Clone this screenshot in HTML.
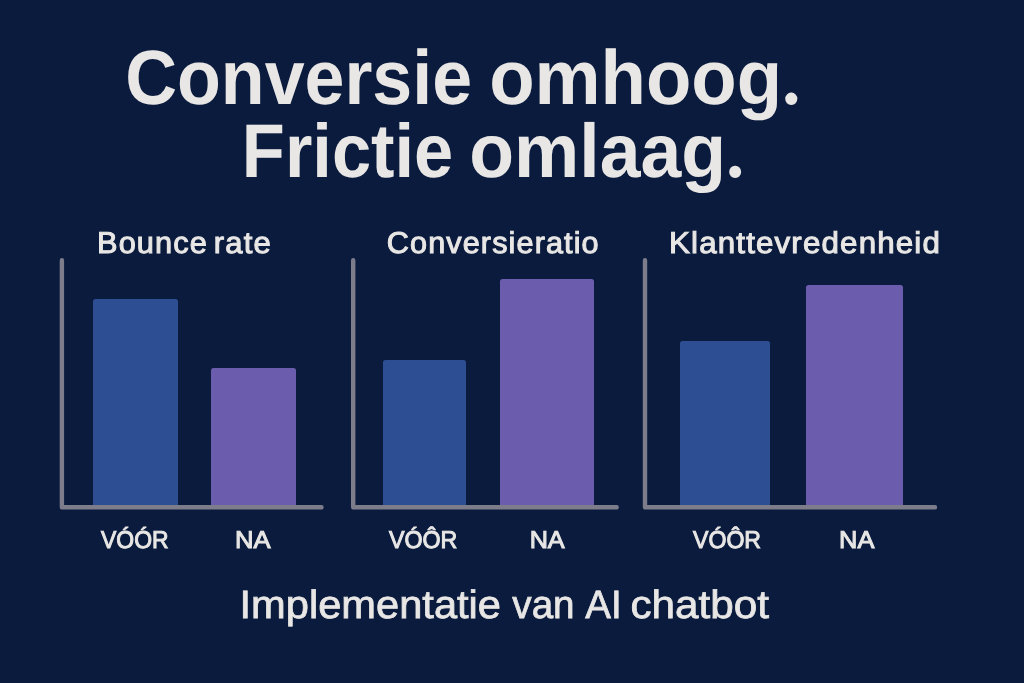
<!DOCTYPE html>
<html lang="nl">
<head>
<meta charset="utf-8">
<title>Conversie omhoog. Frictie omlaag.</title>
<style>
  html, body { margin: 0; padding: 0; }
  body { width: 1024px; height: 683px; overflow: hidden; background: #0b1b3e;
         font-family: "Liberation Sans", sans-serif; color: #e8e7e5; }
  .stage { position: relative; width: 1024px; height: 683px; background: #0b1b3e; overflow: hidden; }
  h1, h2, p { margin: 0; font: inherit; }
  .t { position: absolute; white-space: nowrap; line-height: 1; transform-origin: 0 0; margin: 0; display: block; text-rendering: geometricPrecision; }
  .h1 { font-size: 77px; font-weight: 700; }
  .h1b { font-size: 76px; font-weight: 700; }
  .dot { font-family: "Liberation Serif", serif; }
  .sub { font-size: 30.2px; letter-spacing: 1.1px; font-weight: 400; -webkit-text-stroke: 1px #e8e7e5; }
  .lab { font-size: 24.3px; font-weight: 400; -webkit-text-stroke: 1px #e8e7e5; }
  .foot { font-size: 39.5px; font-weight: 400; -webkit-text-stroke: 0.75px #e8e7e5; }
  .bar { position: absolute; border-radius: 2.5px 2.5px 0 0; }
  .blue { background: #2e4e93; }
  .purple { background: #6b5cad; }
  svg.axes { position: absolute; left: 0; top: 0; }
</style>
</head>
<body>
<div class="stage">
  <h1><span class="t h1" id="w1" style="left:125px; top:39px; transform:translate(0.29px,0.92px) scaleX(0.9312);">Conversie</span> <span class="t h1" id="w2" style="left:489px; top:39px; transform:translate(0.14px,0.92px) scaleX(0.9648);">omhoog<span class="dot">.</span></span> <span class="t h1b" id="w3" style="left:241px; top:114px; transform:translate(0.85px,0.17px) scaleX(0.9271);">Frictie</span> <span class="t h1b" id="w4" style="left:469px; top:114px; transform:translate(0.27px,0.17px) scaleX(0.9649);">omlaag<span class="dot">.</span></span></h1>

  <!-- chart 1: Bounce rate -->
  <h2><span class="t sub" id="s1a" style="left:96px; top:229px; transform:translate(1.00px,0.24px) scaleX(1.0189);">Bounce</span> <span class="t sub" id="s1b" style="left:213px; top:229px; transform:translate(0.86px,0.24px) scaleX(1.0282);">rate</span></h2>
  <div class="bar blue"   style="left:93px;  top:299px; width:85px; height:207px;"></div>
  <div class="bar purple" style="left:211px; top:368px; width:85px; height:138px;"></div>
  <span class="t lab" id="l1a" style="left:101px; top:529px; transform:translate(0.04px,0.23px) scaleX(0.9444);">VÓÓR</span> <span class="t lab" id="l1b" style="left:234px; top:529px; transform:translate(0.97px,0.23px) scaleX(1.0539);">NA</span>

  <!-- chart 2: Conversieratio -->
  <h2><span class="t sub" id="s2" style="left:386px; top:229px; transform:translate(0.84px,0.24px) scaleX(1.0137);">Conversieratio</span></h2>
  <div class="bar blue"   style="left:383px; top:360px; width:83px; height:146px;"></div>
  <div class="bar purple" style="left:500px; top:278.5px; width:94px; height:227.5px;"></div>
  <span class="t lab" id="l2a" style="left:388px; top:529px; transform:translate(0.93px,0.23px) scaleX(0.9557);">VÓÔR</span> <span class="t lab" id="l2b" style="left:529px; top:529px; transform:translate(0.65px,0.23px) scaleX(1.0386);">NA</span>

  <!-- chart 3: Klanttevredenheid -->
  <h2><span class="t sub" id="s3" style="left:669px; top:229px; transform:translate(0.02px,0.34px) scaleX(1.0379);">Klanttevredenheid</span></h2>
  <div class="bar blue"   style="left:680px; top:341px; width:90px; height:165px;"></div>
  <div class="bar purple" style="left:806px; top:285px; width:97px; height:221px;"></div>
  <span class="t lab" id="l3a" style="left:693px; top:529px; transform:translate(0.04px,0.23px) scaleX(0.9503);">VÓÔR</span> <span class="t lab" id="l3b" style="left:839px; top:529px; transform:translate(0.08px,0.23px) scaleX(1.0449);">NA</span>

  <svg class="axes" width="1024" height="683" viewBox="0 0 1024 683" fill="none" stroke="#7c7c8b" stroke-width="4.4" stroke-linecap="round" stroke-linejoin="round">
    <path d="M61.9 260.3 V507.3 H321.5"/>
    <path d="M353.2 260.3 V507.3 H616.7"/>
    <path d="M645 260.3 V507.3 H935"/>
  </svg>
  <p><span class="t foot" id="f1" style="left:239px; top:585px; transform:translate(0.54px,0.86px) scaleX(1.0539);">Implementatie</span> <span class="t foot" id="f2" style="left:512px; top:585px; transform:translate(0.33px,0.86px) scaleX(0.9776);">van</span> <span class="t foot" id="f3" style="left:585px; top:585px; transform:translate(0.30px,0.86px) scaleX(0.9746);">AI</span> <span class="t foot" id="f4" style="left:630px; top:585px; transform:translate(0.46px,0.86px) scaleX(1.0698);">chatbot</span></p>
</div>
</body>
</html>
